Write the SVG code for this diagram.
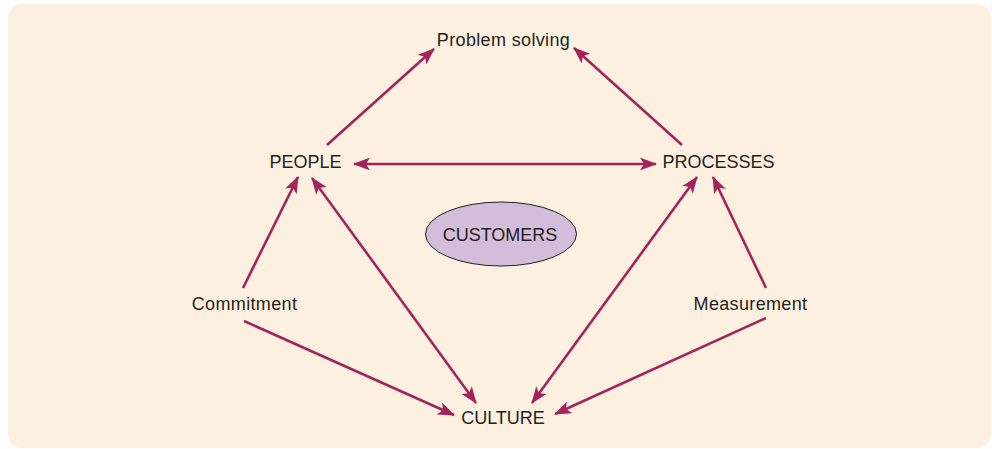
<svg xmlns="http://www.w3.org/2000/svg" width="992" height="449" viewBox="0 0 992 449">
<style>
.lbl{font-family:"Liberation Sans",Arial,sans-serif;font-size:18px;fill:#231F20;text-anchor:middle}
.lc{letter-spacing:0.35px}
.c{stroke:#A3245A;stroke-width:2.6;fill:none;marker-end:url(#ah)}
.d{marker-start:url(#ah)}
</style>
<defs>
<marker id="ah" markerUnits="userSpaceOnUse" markerWidth="18" markerHeight="14" refX="16" refY="6.5" orient="auto-start-reverse" viewBox="0 0 18 13">
<path d="M0,0 L17,6.5 L0,13 L4,6.5 Z" fill="#A3245A"/>
</marker>
</defs>
<rect x="8" y="4" width="983" height="444" rx="14" fill="#FDF0E1"/>
<g id="connectors">
<line class="c" x1="327" y1="145" x2="434" y2="49"/>
<line class="c" x1="682" y1="145" x2="574" y2="48"/>
<line class="c d" x1="354" y1="164" x2="656" y2="164"/>
<line class="c" x1="243" y1="288" x2="298" y2="177"/>
<line class="c d" x1="476" y1="403" x2="312" y2="178"/>
<line class="c" x1="244" y1="321" x2="454" y2="415"/>
<line class="c" x1="766" y1="318" x2="555" y2="414"/>
<line class="c d" x1="532" y1="403" x2="697" y2="177"/>
<line class="c" x1="766" y1="288" x2="713" y2="177"/>
</g>
<g id="problem-solving"><text class="lbl lc" x="503.5" y="46">Problem solving</text></g>
<g id="people"><text class="lbl" x="305.5" y="168">PEOPLE</text></g>
<g id="processes"><text class="lbl" x="718.5" y="168">PROCESSES</text></g>
<g id="customers">
<ellipse cx="501" cy="234" rx="75.5" ry="32" fill="#D4BCDB" stroke="#231F20" stroke-width="1"/>
<text class="lbl" x="500" y="241">CUSTOMERS</text>
</g>
<g id="commitment"><text class="lbl lc" x="244.5" y="310">Commitment</text></g>
<g id="measurement"><text class="lbl lc" x="750.5" y="310">Measurement</text></g>
<g id="culture"><text class="lbl" x="503" y="424">CULTURE</text></g>
</svg>
